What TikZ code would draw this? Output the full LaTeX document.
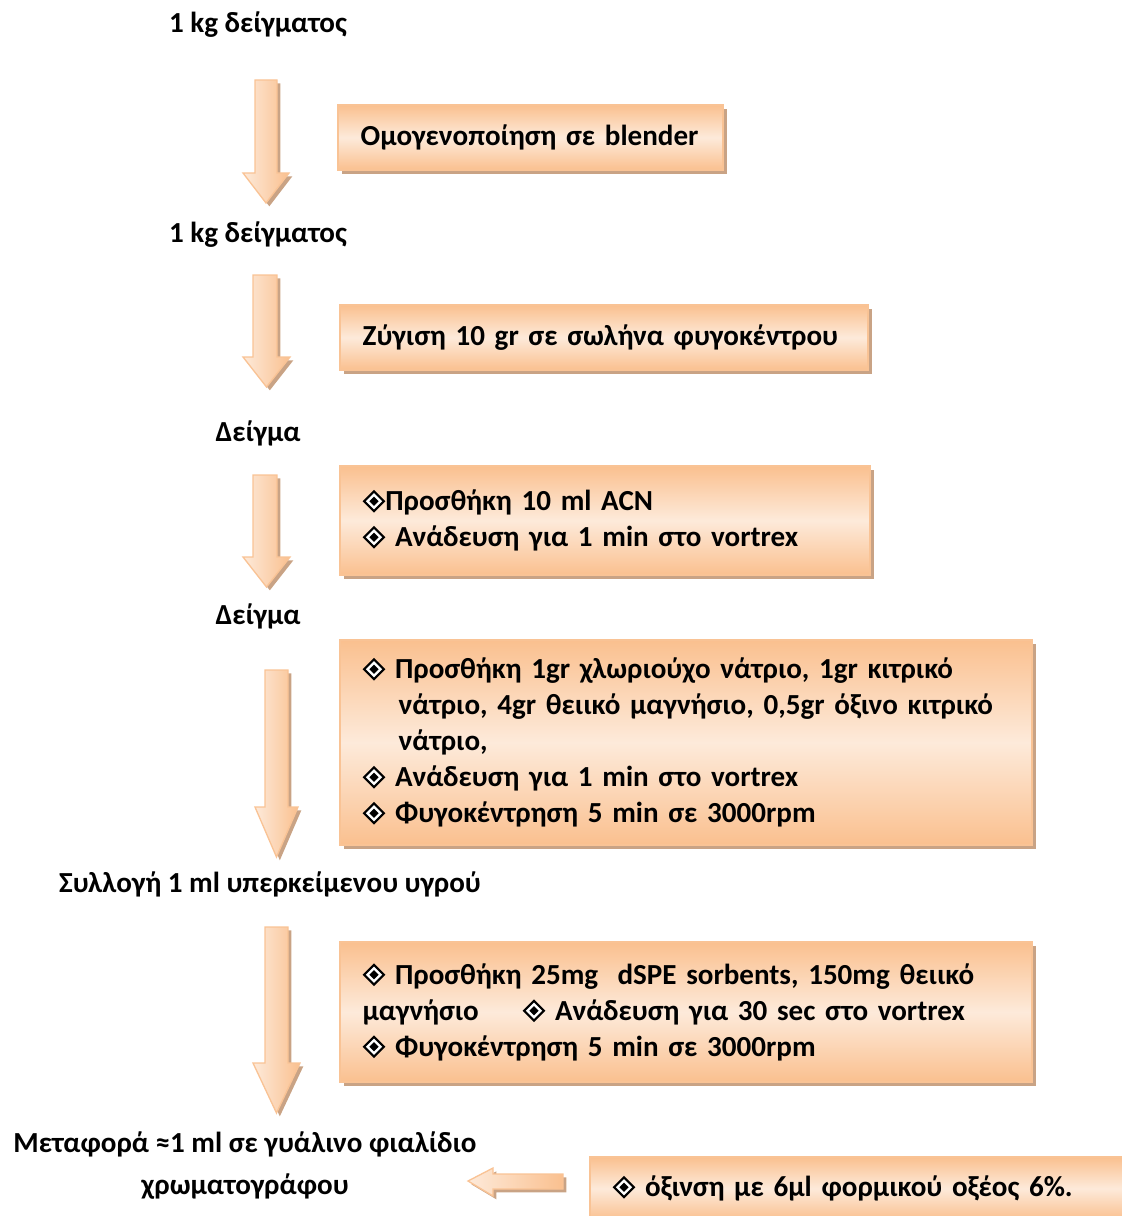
\documentclass[tikz,border=0pt]{standalone}
\usepackage{fontspec}
\setmainfont{Carlito}
\usetikzlibrary{shadows}
\definecolor{orng}{HTML}{FAC08F}
\definecolor{lite}{HTML}{FDEADA}
\definecolor{edge}{HTML}{F9C395}
\definecolor{shd}{HTML}{C9A385}
\newcommand\dmd{\tikz[baseline=0pt,x=1pt,y=1pt]{%
  \fill[black] (8.5,-1.5)--(17,7)--(8.5,15.5)--(0,7)--cycle;
  \fill[white] (8.5,0.9)--(14.6,7)--(8.5,13.1)--(2.4,7)--cycle;
  \fill[black] (8.5,3.6)--(11.9,7)--(8.5,10.4)--(5.1,7)--cycle;}}
\newcommand\blkdown[7]{%
  \path[blk] (#1,#5) -- (#2,#5) -- (#2,#6) -- (#4,#6) -- ({(#3+#4)/2},#7) -- (#3,#6) -- (#1,#6) -- cycle;}
\begin{document}
\begin{tikzpicture}[x=0.75pt,y=-0.75pt,
  txt/.style={font=\fontsize{21.8}{27}\selectfont\bfseries},
  box/.style={txt, draw=edge, line width=1pt, top color=orng, bottom color=orng, middle color=lite,
    drop shadow={shadow xshift=3pt, shadow yshift=-3pt, fill=shd, opacity=1},
    inner xsep=17pt, inner ysep=0pt, align=left},
  lbl/.style={txt, align=center, inner sep=0pt},
  blk/.style={draw=edge, line width=1pt, left color=lite, right color=orng,
    drop shadow={shadow xshift=2.5pt, shadow yshift=-2.5pt, fill=shd, opacity=1}}
]
\useasboundingbox (0,0) rectangle (1121,1216);

% labels
\node[lbl] (l1) at (258,25) {1 kg δείγματος};
\node[lbl] (l2) at (258,235) {1 kg δείγματος};
\node[lbl] (l3) at (258,433) {Δείγμα};
\node[lbl] (l4) at (258,616) {Δείγμα};
\node[lbl] (l5) at (270,884) {Συλλογή 1 ml υπερκείμενου υγρού};
\node[lbl] (l6) at (245,1166) {Μεταφορά ≈1 ml σε γυάλινο φιαλίδιο\\[4.5pt]χρωματογράφου};

% boxes
\node[box, minimum width=288.75pt, minimum height=48.75pt, text width=254.75pt] (b1) at (530.5,137.5)
  {\mbox{Ομογενοποίηση σε blender}};
\node[box, minimum width=396pt, minimum height=48.75pt, text width=362pt] (b2) at (604,337.5)
  {\mbox{Ζύγιση 10 gr σε σωλήνα φυγοκέντρου}};
\node[box, minimum width=397.5pt, minimum height=81.75pt, text width=363.5pt] (b3) at (605,520.5)
  {\mbox{\dmd Προσθήκη 10 ml ACN}\\
   \mbox{\dmd\ Ανάδευση για 1 min στο vortrex}};
\node[box, minimum width=519pt, minimum height=153.75pt, text width=485pt] (b4) at (686,742.5)
  {\mbox{\dmd\ Προσθήκη 1gr χλωριούχο νάτριο, 1gr κιτρικό}\\
   \mbox{\hspace*{27pt}νάτριο, 4gr θειικό μαγνήσιο, 0,5gr όξινο κιτρικό}\\
   \mbox{\hspace*{27pt}νάτριο,}\\
   \mbox{\dmd\ Ανάδευση για 1 min στο vortrex}\\
   \mbox{\dmd\ Φυγοκέντρηση 5 min σε 3000rpm}};
\node[box, minimum width=519pt, minimum height=105pt, text width=485pt] (b5) at (686,1012)
  {\mbox{\dmd\ Προσθήκη 25mg\ \ dSPE sorbents, 150mg θειικό}\\
   \mbox{\makebox[120pt][l]{μαγνήσιο}\dmd\ Ανάδευση για 30 sec στο vortrex}\\
   \mbox{\dmd\ Φυγοκέντρηση 5 min σε 3000rpm}};
\node[box, minimum width=405pt, minimum height=47.25pt, text width=371pt] (b6) at (860,1188.5)
  {\mbox{\dmd\ όξινση με 6μl φορμικού οξέος 6\%.}};

% block arrows
\blkdown{255}{277}{243}{289}{80}{173}{203}
\blkdown{253}{277}{243}{290}{275}{357}{387}
\blkdown{253}{277}{243}{290}{475}{557}{587}
\blkdown{265}{288}{255}{298}{670}{807}{857}
\blkdown{265}{288}{253}{300}{927}{1063}{1113}
\path[blk] (563,1174) -- (563,1189) -- (493,1189) -- (493,1196) -- (468,1181) -- (493,1168) -- (493,1174) -- cycle;
\end{tikzpicture}
\end{document}
